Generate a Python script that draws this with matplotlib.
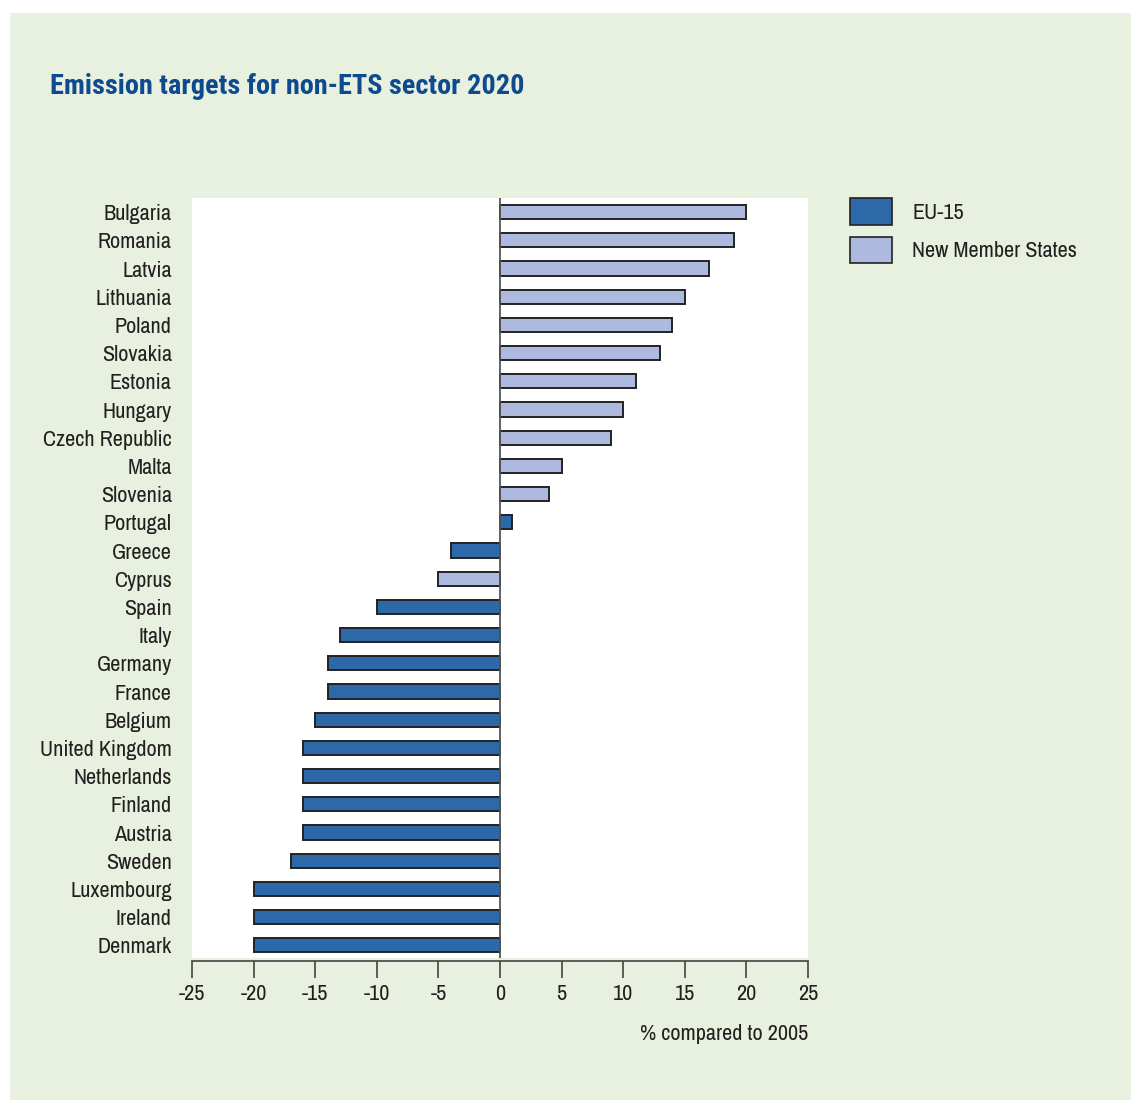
import matplotlib
matplotlib.use("Agg")
import matplotlib.pyplot as plt
from matplotlib.patches import Rectangle, Patch
import numpy as np

countries = ["Bulgaria", "Romania", "Latvia", "Lithuania", "Poland", "Slovakia",
             "Estonia", "Hungary", "Czech Republic", "Malta", "Slovenia", "Portugal",
             "Greece", "Cyprus", "Spain", "Italy", "Germany", "France", "Belgium",
             "United Kingdom", "Netherlands", "Finland", "Austria", "Sweden",
             "Luxembourg", "Ireland", "Denmark"]
values = [20, 19, 17, 15, 14, 13, 11, 10, 9, 5, 4, 1, -4, -5, -10, -13, -14, -14,
          -15, -16, -16, -16, -16, -17, -20, -20, -20]
groups = ["NMS"] * 11 + ["EU15", "EU15", "NMS"] + ["EU15"] * 13
xticks = [-25, -20, -15, -10, -5, 0, 5, 10, 15, 20, 25]

colors = {"EU15": "#2D69A8", "NMS": "#ADB9DF"}
labels = {"EU15": "EU-15", "NMS": "New Member States"}

plt.rcParams['font.family'] = ['Liberation Sans Narrow', 'Arial Narrow', 'Archivo Narrow',
                               'Roboto Condensed', 'PT Sans Narrow', 'DejaVu Sans']
title_family = ['Roboto Condensed', 'Archivo Narrow', 'PT Sans Narrow', 'DejaVu Sans']
text_col = "#231F20"
fs = 16

fig = plt.figure(figsize=(11.31, 11.0), dpi=100)
fig.patch.set_facecolor("white")
fig.patches.append(Rectangle((10 / 1131, 0), 1 - 10 / 1131, 1 - 13 / 1100,
                             transform=fig.transFigure, facecolor="#E8F1DF",
                             edgecolor="none", zorder=-10))

ax = fig.add_axes([192 / 1131, 1 - 958 / 1100, (808 - 192) / 1131, (958 - 198) / 1100])
ax.set_facecolor("white")
for s in ["top", "right", "left"]:
    ax.spines[s].set_visible(False)
ax.spines["bottom"].set_color("#444444")
ax.spines["bottom"].set_linewidth(1.2)
ax.spines["bottom"].set_position(("outward", 2))

y = np.arange(len(countries))
ax.barh(y, values, height=0.5, color=[colors[g] for g in groups],
        edgecolor="#222222", linewidth=1.4, zorder=3)
ax.axvline(0, color="#555555", linewidth=1.3, zorder=4)

ax.set_xlim(-25, 25)
ax.set_ylim(len(countries) - 0.55, -0.5)
ax.set_yticks(y)
ax.set_yticklabels(countries)
ax.tick_params(axis="y", length=0, pad=14.5, labelsize=fs, labelcolor=text_col)
ax.set_xticks(xticks)
ax.set_xticklabels([str(t) for t in xticks])
ax.tick_params(axis="x", length=12, width=1.2, color="#444444", pad=5, direction="out",
               labelsize=fs, labelcolor=text_col)

ax.set_xlabel("% compared to 2005", fontsize=fs, color=text_col, loc="right", labelpad=14)

handles = [Patch(facecolor=colors[g], edgecolor="#222222", linewidth=1.2, label=labels[g])
           for g in ["EU15", "NMS"]]
fig.legend(handles=handles, loc="upper left", bbox_to_anchor=(841 / 1131, 1 - 189 / 1100),
           borderaxespad=0, borderpad=0.4,
           frameon=False, fontsize=fs, handlelength=1.9, handleheight=1.47,
           labelspacing=0.54, handletextpad=0.9, labelcolor=text_col)

fig.text(50 / 1131, 1 - 86 / 1100, "Emission targets for non-ETS sector 2020",
         fontsize=20.3, fontweight="bold", color="#0D4A8F", va="center", ha="left",
         family=title_family)

fig.savefig("out.png", dpi=100, facecolor=fig.get_facecolor())
